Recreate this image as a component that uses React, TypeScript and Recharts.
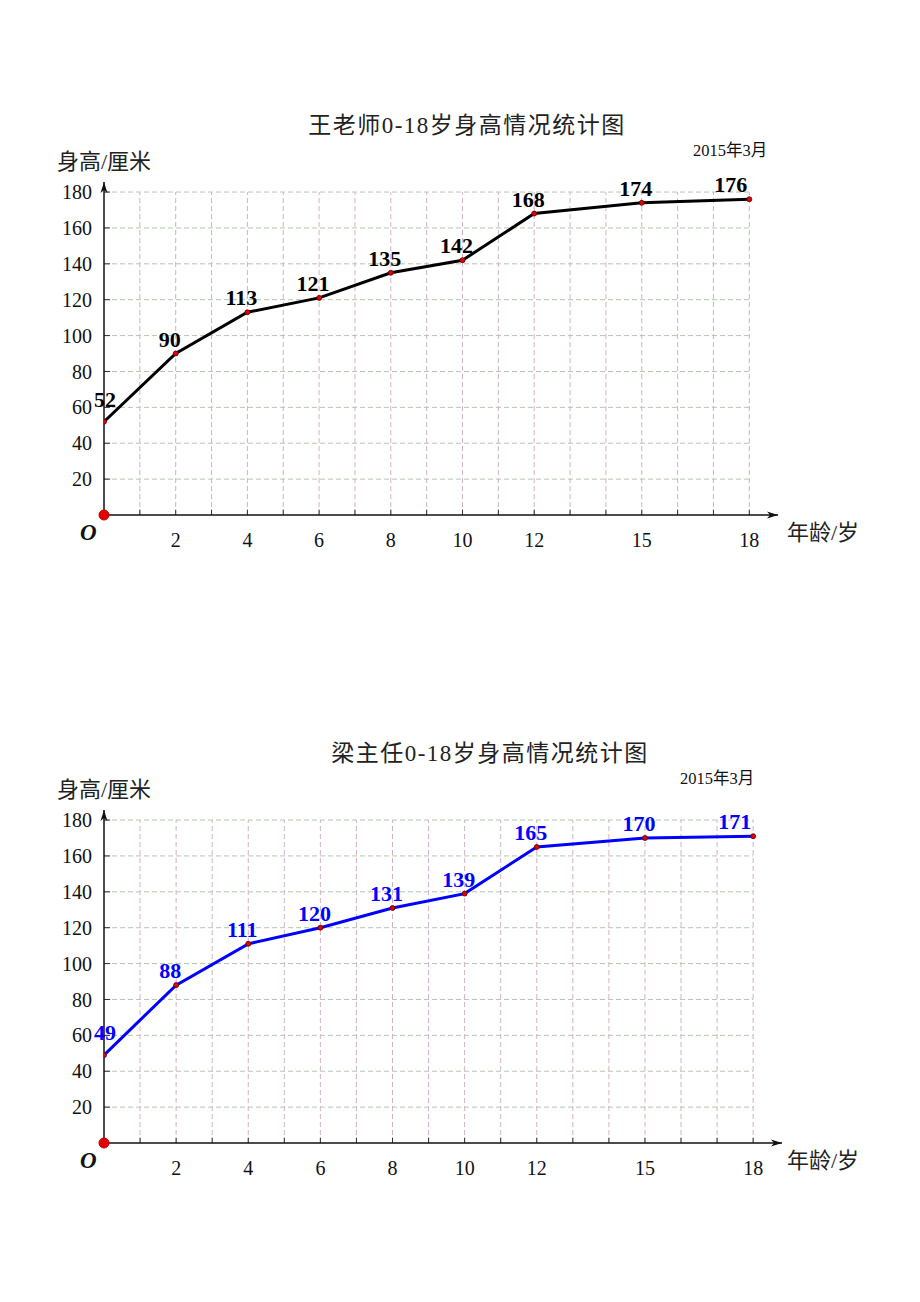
import { LabelList, Line, LineChart, ReferenceDot, ReferenceLine, XAxis, YAxis } from "recharts";

const ages = [0, 2, 4, 6, 8, 10, 12, 15, 18];
const wangHeights = [52, 90, 113, 121, 135, 142, 168, 174, 176];
const liangHeights = [49, 88, 111, 120, 131, 139, 165, 170, 171];
const xTicks = [2, 4, 6, 8, 10, 12, 15, 18];
const yTicks = [20, 40, 60, 80, 100, 120, 140, 160, 180];
const gridYears = [1, 2, 3, 4, 5, 6, 7, 8, 9, 10, 11, 12, 13, 14, 15, 16, 17, 18];

const SERIF = '"Liberation Serif", "Times New Roman", "Noto Sans CJK SC", serif';
const X_MAX = 18.8;
const Y_MAX = 185.6;

type ChartProps = {
  heights: number[];
  color: string;
  offsetTop: number;
  rightMargin: number;
  title: string;
  titleX: number;
  dateX: number;
};

function abs(x: number, y: number, extra: React.CSSProperties = {}): React.CSSProperties {
  return {
    position: "absolute",
    left: x,
    top: y,
    transform: "translateY(-50%)",
    lineHeight: 1,
    whiteSpace: "nowrap",
    fontFamily: SERIF,
    color: "#111",
    ...extra,
  };
}

function HeightChart({ heights, color, offsetTop, rightMargin, title, titleX, dateX }: ChartProps) {
  const data = ages.map((age, i) => ({ age, h: heights[i] }));
  const last = ages.length - 1;

  const renderLabel = (props: any) => {
    const { x, y, value, index } = props;
    const first = index === 0;
    const isLast = index === last;
    return (
      <text
        x={first ? x + 1 : isLast ? x - 2 : x - 6}
        y={first ? y - 15 : y - 7}
        textAnchor={isLast ? "end" : "middle"}
        fontFamily={SERIF}
        fontWeight="bold"
        fontSize={22}
        fill={color}
      >
        {value}
      </text>
    );
  };

  return (
    <div style={{ position: "absolute", left: 0, top: offsetTop, width: 920, height: 600 }}>
      <div style={abs(titleX, 125, { transform: "translate(-50%, -50%)", fontSize: 23, letterSpacing: 1.5, color: "#222" })}>
        {title}
      </div>
      <div style={abs(dateX, 151, { fontSize: 16.5 })}>2015年3月</div>
      <div style={abs(57, 162, { fontSize: 22, color: "#222" })}>身高/厘米</div>
      <div style={abs(787, 533, { fontSize: 22, color: "#222" })}>年龄/岁</div>
      <div style={abs(80, 532, { fontSize: 23, fontWeight: "bold", fontStyle: "italic" })}>O</div>

      <LineChart
        width={920}
        height={600}
        data={data}
        margin={{ top: 182, right: rightMargin, left: 44, bottom: 55 }}
      >
        {gridYears.map((yr) => (
          <ReferenceLine
            key={`v${yr}`}
            segment={[{ x: yr, y: 0 }, { x: yr, y: 180 }]}
            stroke="#cfb2c8"
            strokeDasharray="5 3"
            strokeWidth={1}
          />
        ))}
        {yTicks.map((v) => (
          <ReferenceLine
            key={`h${v}`}
            segment={[{ x: 0, y: v }, { x: 18, y: v }]}
            stroke="#b4c7b1"
            strokeDasharray="5 3"
            strokeWidth={1}
          />
        ))}
        {gridYears.map((yr) => (
          <ReferenceLine key={`xt${yr}`} segment={[{ x: yr, y: 0 }, { x: yr, y: 3 }]} stroke="#333" strokeWidth={1} />
        ))}
        {yTicks.map((v) => (
          <ReferenceLine key={`yt${v}`} segment={[{ x: 0, y: v }, { x: 0.17, y: v }]} stroke="#333" strokeWidth={1} />
        ))}
        <XAxis
          dataKey="age"
          type="number"
          domain={[0, X_MAX]}
          ticks={xTicks}
          allowDataOverflow
          height={30}
          tickLine={false}
          tickSize={0}
          tickMargin={18}
          axisLine={{ stroke: "#111", strokeWidth: 1.5 }}
          tick={{ fill: "#111", fontSize: 20, fontFamily: SERIF }}
        />
        <YAxis
          type="number"
          domain={[0, Y_MAX]}
          ticks={yTicks}
          allowDataOverflow
          width={60}
          tickLine={false}
          tickSize={0}
          tickMargin={12}
          axisLine={{ stroke: "#111", strokeWidth: 1.5 }}
          tick={{ fill: "#111", fontSize: 20, fontFamily: SERIF }}
        />
        <ReferenceDot
          x={X_MAX}
          y={0}
          ifOverflow="visible"
          shape={(p: any) => (
            <polygon points={`${p.cx},${p.cy} ${p.cx - 11},${p.cy - 3.5} ${p.cx - 8},${p.cy} ${p.cx - 11},${p.cy + 3.5}`} fill="#111" />
          )}
        />
        <ReferenceDot
          x={0}
          y={Y_MAX}
          ifOverflow="visible"
          shape={(p: any) => (
            <polygon points={`${p.cx},${p.cy} ${p.cx - 3.5},${p.cy + 11} ${p.cx},${p.cy + 8} ${p.cx + 3.5},${p.cy + 11}`} fill="#111" />
          )}
        />
        <Line
          type="linear"
          dataKey="h"
          stroke={color}
          strokeWidth={3}
          isAnimationActive={false}
          dot={{ r: 2.5, fill: "#e00000", stroke: "#500", strokeWidth: 0.8 }}
          activeDot={false}
        >
          <LabelList dataKey="h" content={renderLabel} />
        </Line>
        <ReferenceDot x={0} y={0} r={5} fill="#e00000" stroke="#c00000" ifOverflow="visible" />
      </LineChart>
    </div>
  );
}

export default function App() {
  return (
    <div style={{ position: "absolute", left: 0, top: 0, width: 920, height: 1302, background: "#fff" }}>
      <HeightChart
        heights={wangHeights}
        color="#000000"
        offsetTop={0}
        rightMargin={142}
        title="王老师0-18岁身高情况统计图"
        titleX={467}
        dateX={693}
      />
      <HeightChart
        heights={liangHeights}
        color="#0000ff"
        offsetTop={628}
        rightMargin={138}
        title="梁主任0-18岁身高情况统计图"
        titleX={490}
        dateX={680}
      />
    </div>
  );
}
